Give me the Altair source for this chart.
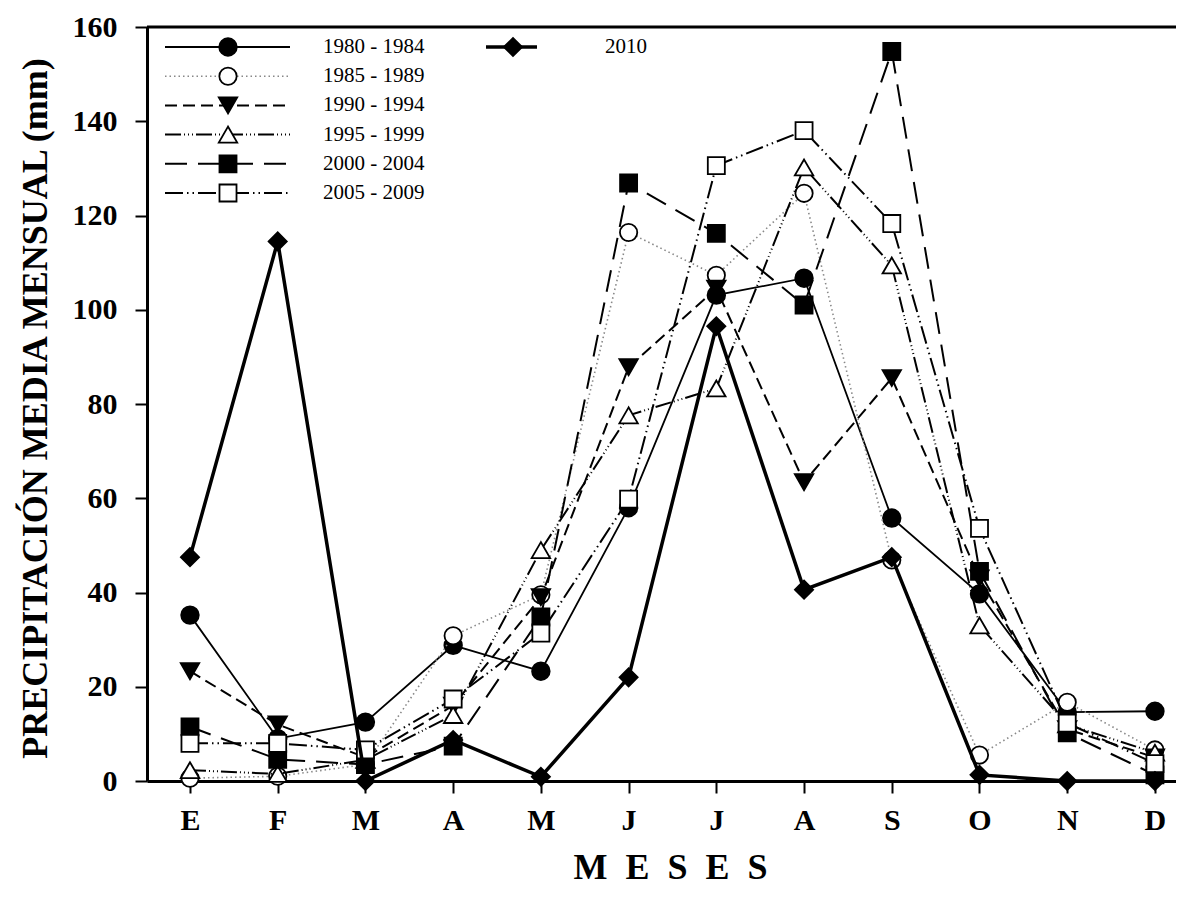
import json
import altair as alt
import pandas as pd

# ---------------- data ----------------
meses = ['E', 'F', 'M', 'A', 'M', 'J', 'J', 'A', 'S', 'O', 'N', 'D']
series = ['1980 - 1984', '1985 - 1989', '1990 - 1994', '1995 - 1999',
          '2000 - 2004', '2005 - 2009', '2010']

v1980 = [35.2, 9.0, 12.5, 28.8, 23.3, 58.0, 103.1, 106.7, 55.8, 39.7, 14.6, 14.8]
v1985 = [0.6, 1.0, 3.5, 30.8, 39.5, 116.4, 107.3, 124.7, 46.9, 5.5, 16.7, 6.6]
v1990 = [23.3, 12.0, 5.0, 16.0, 39.0, 87.8, 104.5, 63.4, 85.5, 43.0, 11.0, 5.0]
v1995 = [2.3, 1.5, 4.5, 14.0, 49.0, 77.6, 83.3, 130.2, 109.4, 33.0, 12.0, 6.0]
v2000 = [11.5, 4.6, 3.5, 7.4, 34.8, 126.9, 116.2, 101.0, 154.8, 44.5, 10.2, 1.3]
v2005 = [8.0, 8.0, 6.6, 17.4, 31.4, 59.8, 130.6, 138.0, 118.3, 53.6, 12.3, 3.7]
v2010 = [47.5, 114.5, 0.0, 8.7, 0.9, 22.0, 96.5, 40.6, 47.5, 1.3, 0.0, 0.0]
valores = [v1980, v1985, v1990, v1995, v2000, v2005, v2010]

rows = []
for s, vals in zip(series, valores):
    for i, v in enumerate(vals):
        rows.append({'serie': s, 'mes': i + 1, 'valor': v})
df = pd.DataFrame(rows)

# ---------------- styles ----------------
FONT = 'Liberation Serif'
W, H = 1029, 754

styles = [
    dict(dash=None, width=1.8, color='black', shape='circle', fill='black', size=310),
    dict(dash=[1.5, 3], width=1.6, color='#888888', shape='circle', fill='white', size=300),
    dict(dash=[12, 6], width=2, color='black', shape='triangle-down', fill='black', size=340),
    dict(dash=[16, 3, 1, 3, 1, 3, 1, 3], width=2, color='black', shape='triangle-up', fill='white', size=340),
    dict(dash=[22, 11], width=2, color='black', shape='square', fill='black', size=290),
    dict(dash=[18, 4, 1.5, 4, 1.5, 4], width=2, color='black', shape='square', fill='white', size=290),
    dict(dash=None, width=3.5, color='black', shape='diamond', fill='black', size=330),
]

label_expr = json.dumps(meses) + '[datum.value - 1]'
gap = '\u00a0\u00a0'
x_title = gap.join(['M', 'E', 'S', 'E', 'S'])

x_enc = alt.X(
    'mes:Q',
    scale=alt.Scale(domain=[0.51, 12.24], nice=False, zero=False),
    axis=alt.Axis(values=list(range(1, 13)), labelExpr=label_expr,
                  title=x_title,
                  titleFontSize=36, titleX=523, titleY=86,
                  titleAlign='center', titleBaseline='middle',
                  labelPadding=12, tickSize=12, domainWidth=3,
                  labelFlush=False, labelOverlap=False),
)
y_enc = alt.Y(
    'valor:Q',
    scale=alt.Scale(domain=[0, 160], nice=False, zero=True),
    axis=alt.Axis(values=list(range(0, 161, 20)),
                  title='PRECIPITACIÓN MEDIA MENSUAL (mm)',
                  titleFontSize=36, titleX=-112, titleY=381, titleAngle=270,
                  titleAlign='center', titleBaseline='middle',
                  labelPadding=18, tickSize=12, domainWidth=3,
                  labelFlush=False, labelOverlap=False),
)

layers = []
base = alt.Chart(df)
for s, st in zip(series, styles):
    line_kw = dict(color=st['color'], strokeWidth=st['width'])
    if st['dash'] is not None:
        line_kw['strokeDash'] = st['dash']
    flt = alt.datum.serie == s
    layers.append(base.transform_filter(flt).mark_line(**line_kw).encode(x=x_enc, y=y_enc))
    layers.append(
        base.transform_filter(flt).mark_point(
            shape=st['shape'], size=st['size'], filled=True, fill=st['fill'],
            stroke='black', strokeWidth=1.8, opacity=1, fillOpacity=1, strokeOpacity=1
        ).encode(x=x_enc, y=y_enc)
    )

# top frame line
one = alt.Data(values=[{'k': 0}])
layers.append(alt.Chart(one).mark_rule(color='black', strokeWidth=3).encode(
    x=alt.value(0), x2=alt.value(W), y=alt.value(0)))

# ---------------- legend (drawn inside plot) ----------------
for i, (s, st) in enumerate(zip(series, styles)):
    if i < 6:
        yy = 20 + 29.2 * i
        lx1, lx2, mx, tx = 18, 143, 81, 176
    else:
        yy = 20
        lx1, lx2, mx, tx = 339, 390, 366, 458
    rule_kw = dict(color=st['color'], strokeWidth=st['width'])
    if st['dash'] is not None:
        rule_kw['strokeDash'] = st['dash']
    layers.append(alt.Chart(one).mark_rule(**rule_kw).encode(
        x=alt.value(lx1), x2=alt.value(lx2), y=alt.value(yy)))
    layers.append(alt.Chart(one).mark_point(
        shape=st['shape'], size=st['size'], filled=True, fill=st['fill'],
        stroke='black', strokeWidth=1.8, opacity=1, fillOpacity=1, strokeOpacity=1
    ).encode(x=alt.value(mx), y=alt.value(yy)))
    layers.append(alt.Chart(one).mark_text(
        align='left', baseline='middle', font=FONT, fontSize=21, color='black'
    ).encode(x=alt.value(tx), y=alt.value(yy), text=alt.value(s)))

chart = alt.layer(*layers).properties(
    width=W, height=H,
    autosize=alt.AutoSizeParams(type='none'),
    padding={'left': 139, 'top': 19, 'right': 0, 'bottom': 106},
).configure_view(stroke=None).configure_axis(
    grid=False, domainColor='black', tickColor='black', tickWidth=2,
    labelFont=FONT, labelFontSize=30, labelFontWeight='bold', labelColor='black',
    titleFont=FONT, titleFontWeight='bold', titleColor='black',
)

chart.save('out.html', embed_options={'renderer': 'svg', 'actions': False})
